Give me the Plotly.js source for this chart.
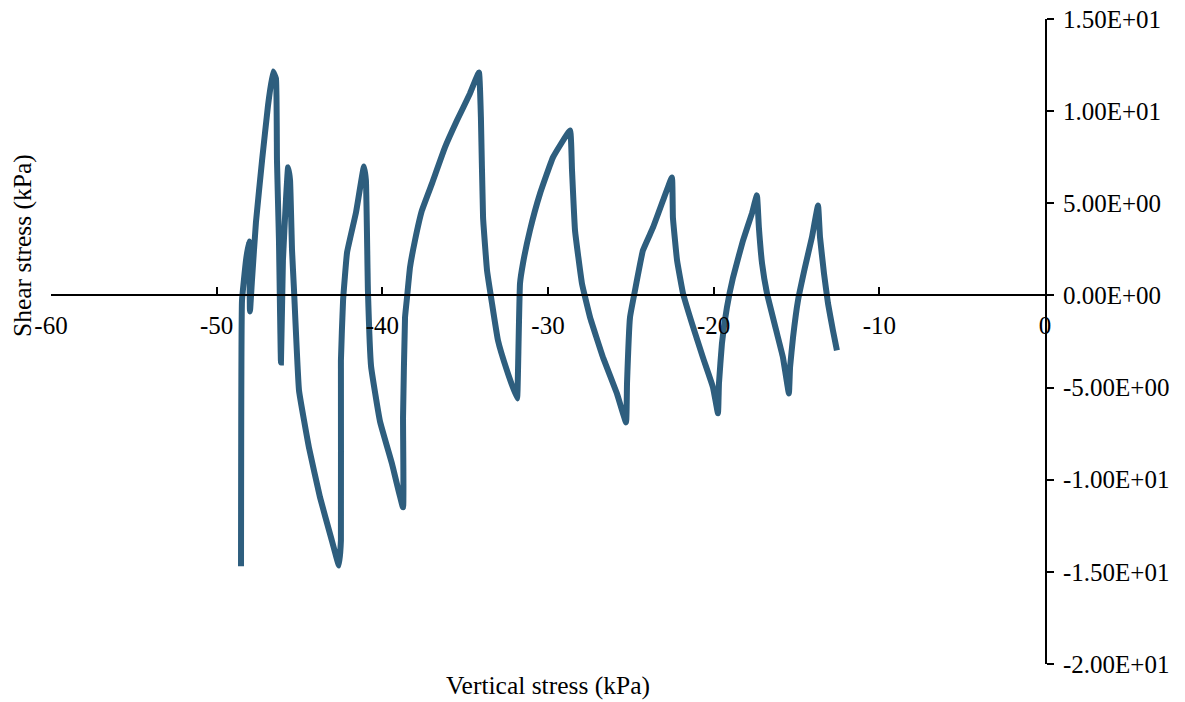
<!DOCTYPE html>
<html>
<head>
<meta charset="utf-8">
<script src="https://cdn.plot.ly/plotly-3.0.1.min.js"></script>
<style>html,body{margin:0;padding:0;background:#fff;}#chart{width:1185px;height:702px;}</style>
</head>
<body>
<div id="chart"></div>
<script>
// Vertical stress (kPa)
var verticalStress = [
  -48.53, -48.47, -48.23, -48.05, -47.99, -47.87, -47.63, -47.26, -46.90, -46.60,
  -46.42, -46.36, -46.24, -46.12, -46.00, -45.82, -45.69, -45.57, -45.45, -45.33,
  -45.03, -44.43, -43.76, -43.10, -42.62, -42.50, -42.50, -42.37, -42.13, -41.59,
  -41.11, -40.99, -40.87, -40.68, -40.14, -39.42, -38.75, -38.75, -38.63, -38.51,
  -38.33, -38.03, -37.61, -37.00, -36.22, -35.49, -34.71, -34.17, -34.05, -33.92,
  -33.68, -33.38, -33.02, -32.48, -31.87, -31.81, -31.69, -31.51, -31.09, -30.48,
  -29.70, -28.67, -28.55, -28.37, -27.95, -27.46, -26.68, -25.84, -25.29, -25.23,
  -25.05, -24.75, -24.27, -23.66, -23.06, -22.52, -22.46, -22.21, -21.85, -21.31,
  -20.65, -20.04, -19.74, -19.68, -19.50, -19.20, -18.83, -18.23, -17.69, -17.39,
  -17.27, -17.08, -16.78, -16.18, -15.82, -15.46, -15.39, -15.21, -14.91, -14.49,
  -14.07, -13.70, -13.58, -13.34, -13.10, -12.80, -12.56
];
// Shear stress (kPa)
var shearStress = [
  -14.70, -0.27, 1.90, 2.93, -0.87, 0.81, 3.96, 7.33, 10.31, 12.15,
  11.77, 7.33, 2.98, -3.64, 1.90, 5.15, 6.95, 6.24, 2.44, 0.27,
  -5.15, -8.25, -10.96, -13.13, -14.65, -13.29, -3.53, -0.27, 2.33, 4.50,
  7.00, 6.24, 0.27, -3.85, -6.84, -9.12, -11.50, -6.62, -1.19, -0.11,
  1.52, 2.98, 4.61, 6.08, 8.03, 9.50, 10.96, 12.10, 9.66, 4.23,
  1.36, -0.43, -2.44, -4.07, -5.59, -4.07, 0.65, 1.74, 3.53, 5.53,
  7.49, 8.95, 6.78, 3.53, 0.65, -1.19, -3.36, -5.32, -6.89, -4.77,
  -1.19, 0.27, 2.44, 3.69, 5.15, 6.40, 4.23, 1.90, 0.11, -1.52,
  -3.36, -4.99, -6.40, -4.77, -2.60, -0.65, 0.98, 2.98, 4.45, 5.43,
  3.69, 1.74, 0.11, -2.06, -3.36, -5.32, -3.91, -2.28, -0.27, 1.52,
  3.15, 4.88, 3.15, 1.19, -0.43, -1.90, -2.98
];

var xTickValues = [-60, -50, -40, -30, -20, -10, 0];
var xTickLabels = ['-60', '-50', '-40', '-30', '-20', '-10', '0'];
var yTickValues = [15, 10, 5, 0, -5, -10, -15, -20];
var yTickLabels = ['1.50E+01', '1.00E+01', '5.00E+00', '0.00E+00', '-5.00E+00', '-1.00E+01', '-1.50E+01', '-2.00E+01'];

var serif = 'Liberation Serif, Times New Roman, serif';

var trace = {
  x: verticalStress,
  y: shearStress,
  type: 'scatter',
  mode: 'lines',
  line: {color: '#2e5e7e', width: 6, shape: 'spline', smoothing: 0.3},
  hoverinfo: 'x+y'
};

var layout = {
  width: 1185,
  height: 702,
  margin: {l: 51, r: 140, t: 19, b: 38, pad: 0},
  paper_bgcolor: '#ffffff',
  plot_bgcolor: '#ffffff',
  showlegend: false,
  font: {family: serif, size: 25, color: '#000000'},
  xaxis: {
    range: [-60, 0],
    anchor: 'free',
    position: 20 / 35,
    tickmode: 'array',
    tickvals: xTickValues,
    ticktext: xTickLabels,
    ticks: 'inside',
    ticklen: 7,
    tickwidth: 2,
    tickcolor: '#000000',
    ticklabelstandoff: 8,
    showline: true,
    linecolor: '#000000',
    linewidth: 2,
    showgrid: false,
    zeroline: false,
    tickfont: {family: serif, size: 25, color: '#000000'}
  },
  yaxis: {
    range: [-20, 15],
    side: 'right',
    anchor: 'x',
    tickmode: 'array',
    tickvals: yTickValues,
    ticktext: yTickLabels,
    ticks: 'outside',
    ticklen: 7,
    tickwidth: 2,
    tickcolor: '#000000',
    ticklabelstandoff: 4,
    showline: true,
    linecolor: '#000000',
    linewidth: 2,
    showgrid: false,
    zeroline: false,
    tickfont: {family: serif, size: 25, color: '#000000'}
  },
  annotations: [
    {
      text: 'Vertical stress (kPa)',
      xref: 'paper', yref: 'paper',
      x: 0.5, y: -0.0326,
      xanchor: 'center', yanchor: 'middle',
      showarrow: false,
      font: {family: serif, size: 25.5, color: '#000000'}
    },
    {
      text: 'Shear stress (kPa)',
      xref: 'paper', yref: 'paper',
      x: -0.0292, y: 0.6496,
      xanchor: 'center', yanchor: 'middle',
      textangle: -90,
      showarrow: false,
      font: {family: serif, size: 25.5, color: '#000000'}
    }
  ]
};

Plotly.newPlot('chart', [trace], layout, {displayModeBar: false, staticPlot: true});
</script>
</body>
</html>
